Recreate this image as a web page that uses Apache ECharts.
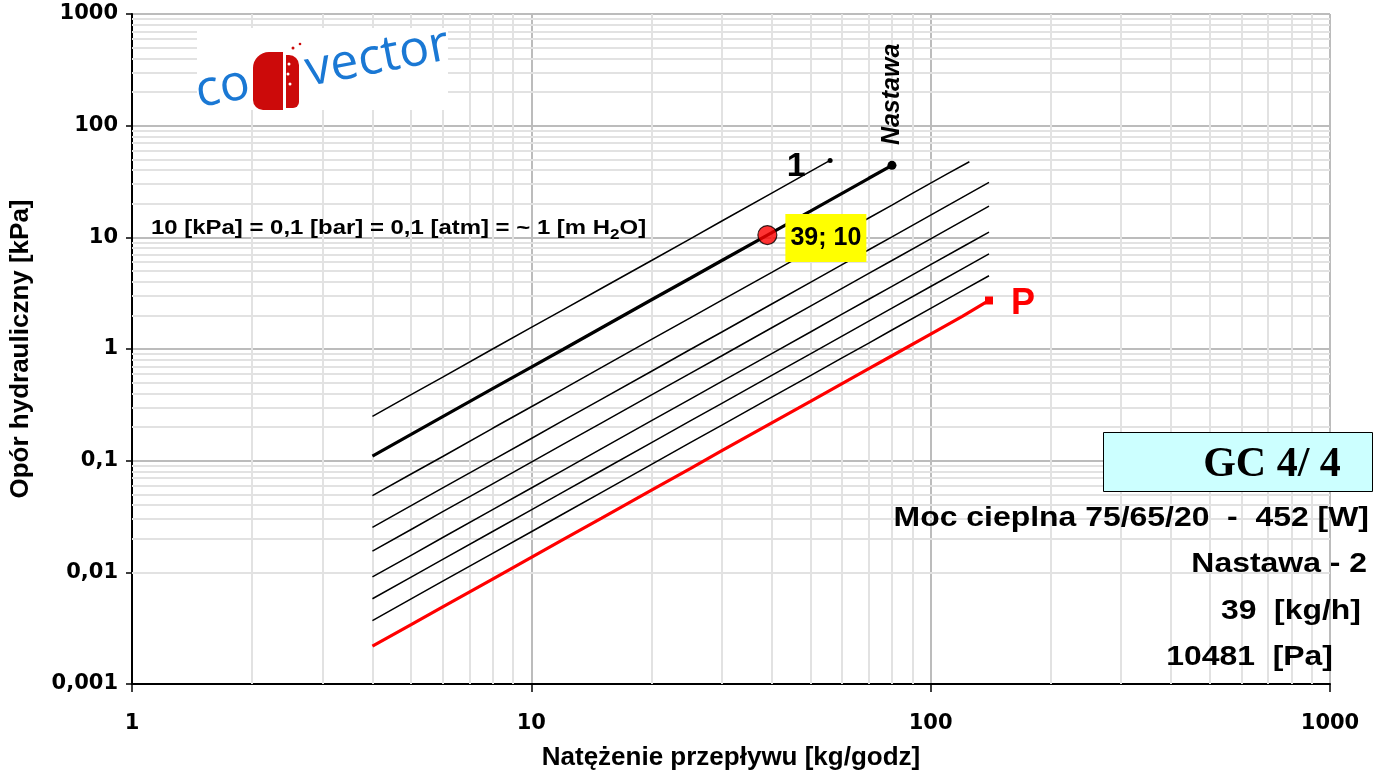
<!DOCTYPE html>
<html><head><meta charset="utf-8">
<script src="https://cdn.jsdelivr.net/npm/echarts@6/dist/echarts.min.js"></script>
<style>html,body{margin:0;padding:0;background:#fff}#c{width:1375px;height:776px}</style>
</head><body><div id="c"></div>
<script>
// ---------- data ----------
const xTickLabels = ['1', '10', '100', '1000'];
const yTickLabels = ['0,001', '0,01', '0,1', '1', '10', '100', '1000'];

const flow  = [4, 5, 6, 8, 10, 12, 15, 20, 25, 30, 40, 50, 60, 70, 80, 100, 120, 140];
const flow1 = [4, 5, 6, 8, 10, 12, 15, 20, 25, 30, 40, 50, 56];
const flow2 = [4, 5, 6, 8, 10, 12, 15, 20, 25, 30, 39, 50, 60, 70, 80];
const flow3 = [4, 5, 6, 8, 10, 12, 15, 20, 25, 30, 40, 50, 60, 70, 80, 90, 100, 110, 125];

const line1 = [0.249, 0.39, 0.56, 1.0, 1.56, 2.24, 3.5, 6.2, 9.7, 14.0, 24.9, 38.9, 48.8];
const line2 = [0.110, 0.172, 0.248, 0.441, 0.689, 0.99, 1.55, 2.76, 4.3, 6.2, 10.48, 17.2, 24.8, 33.8, 44.1];
const line3 = [0.0486, 0.076, 0.109, 0.195, 0.304, 0.438, 0.684, 1.22, 1.9, 2.74, 4.86, 7.6, 10.9, 14.9, 19.4, 24.8, 30.6, 37.0, 47.5];
const line4 = [0.0253, 0.0395, 0.057, 0.101, 0.158, 0.228, 0.356, 0.632, 0.99, 1.42, 2.53, 3.95, 5.69, 7.74, 10.1, 15.8, 22.8, 31.0];
const line5 = [0.0155, 0.0242, 0.0349, 0.062, 0.097, 0.14, 0.218, 0.388, 0.606, 0.87, 1.55, 2.42, 3.49, 4.75, 6.2, 9.7, 13.95, 19.0];
const line6 = [0.0091, 0.0142, 0.0205, 0.0364, 0.0569, 0.082, 0.128, 0.228, 0.356, 0.512, 0.91, 1.42, 2.05, 2.79, 3.64, 5.69, 8.19, 11.15];
const line7 = [0.0058, 0.00906, 0.01305, 0.0232, 0.0363, 0.0522, 0.0816, 0.145, 0.227, 0.326, 0.58, 0.906, 1.305, 1.78, 2.32, 3.63, 5.22, 7.1];
const line8 = [0.0037, 0.00578, 0.00833, 0.0148, 0.0231, 0.0333, 0.052, 0.0925, 0.145, 0.208, 0.37, 0.578, 0.833, 1.13, 1.48, 2.31, 3.33, 4.53];
const lineP = [0.00218, 0.0034, 0.0049, 0.0087, 0.0136, 0.0196, 0.0306, 0.0545, 0.085, 0.123, 0.218, 0.34, 0.49, 0.667, 0.87, 1.36, 1.96, 2.72];

const opPoint = [39, 10.48];
const opLabel = '39; 10';

const xTitle = 'Natężenie przepływu [kg/godz]';
const yTitle = 'Opór hydrauliczny [kPa]';
const infoTitle = 'GC 4/ 4';
const infoRows = ['Moc cieplna 75/65/20  -  452 [W]', 'Nastawa - 2', '39  [kg/h]', '10481  [Pa]'];

// ---------- chart ----------
const SANS = 'Liberation Sans, Arial, sans-serif';
const chart = echarts.init(document.getElementById('c'));

function pairs(xs, ys, endItem) {
  const d = xs.map((x, i) => [x, ys[i]]);
  if (endItem) d[d.length - 1] = Object.assign({ value: d[d.length - 1] }, endItem);
  return d;
}
const minorX = [], minorY = [];
for (let e = 0; e < 3; e++) for (let d = 2; d <= 9; d++) minorX.push(+(d * Math.pow(10, e)).toPrecision(3));
for (let e = -3; e < 3; e++) for (let d = 2; d <= 9; d++) minorY.push(+(d * Math.pow(10, e)).toPrecision(3));

function curve(name, xs, ys, color, width, endItem, label) {
  return {
    name, type: 'line', data: pairs(xs, ys, endItem), symbol: 'none', showSymbol: true,
    lineStyle: { color, width }, itemStyle: { color }, z: 3, silent: true, animation: false,
    label: label || { show: false }
  };
}

const option = {
  animation: false,
  grid: { left: 128, right: 45, top: 14, bottom: 86 },
  xAxis: {
    type: 'log', logBase: 10, min: 1, max: 1000,
    name: xTitle, nameLocation: 'middle', nameGap: 61,
    nameTextStyle: { fontFamily: SANS, fontWeight: 'bold', fontSize: 26, color: '#000' },
    axisLine: { show: true, onZero: false, lineStyle: { color: '#000', width: 2 } },
    axisTick: { show: true, length: 8, lineStyle: { color: '#000', width: 1.5 } },
    axisLabel: { margin: 29, fontFamily: 'DejaVu Sans', fontWeight: 'bold', fontSize: 21, color: '#000',
      formatter: v => xTickLabels[Math.round(Math.log10(v))] },
    splitLine: { show: true, lineStyle: { color: '#bcbcbc', width: 2 } }
  },
  yAxis: {
    type: 'log', logBase: 10, min: 0.001, max: 1000,
    name: yTitle, nameLocation: 'middle', nameGap: 98,
    nameTextStyle: { fontFamily: SANS, fontWeight: 'bold', fontSize: 26, color: '#000' },
    axisLine: { show: true, onZero: false, lineStyle: { color: '#000', width: 2 } },
    axisTick: { show: true, length: 6, lineStyle: { color: '#000', width: 1.5 } },
    axisLabel: { margin: 14, fontFamily: 'DejaVu Sans', fontWeight: 'bold', fontSize: 21, color: '#000',
      formatter: v => yTickLabels[Math.round(Math.log10(v)) + 3] },
    splitLine: { show: true, lineStyle: { color: '#bcbcbc', width: 2 } }
  },
  series: [
    {
      type: 'line', data: [[1, 1]], symbol: 'none', lineStyle: { width: 0 }, silent: true,
      markLine: {
        silent: true, z: 1, symbol: ['none', 'none'], label: { show: false }, animation: false,
        lineStyle: { color: '#e2e2e2', width: 2, type: 'solid' },
        emphasis: { disabled: true },
        data: minorX.map(v => ({ xAxis: v })).concat(minorY.map(v => ({ yAxis: v })))
      }
    },
    curve('1', flow1, line1, '#000', 1.5, { symbol: 'circle', symbolSize: 5 },
      { show: true, position: 'left', distance: 22, offset: [0, 6], fontFamily: SANS, fontWeight: 'bold', fontSize: 34, color: '#000',
        formatter: p => p.dataIndex === flow1.length - 1 ? '1' : '' }),
    curve('Nastawa', flow2, line2, '#000', 3.2, { symbol: 'circle', symbolSize: 9 }),
    curve('3', flow3, line3, '#000', 1.5),
    curve('4', flow, line4, '#000', 1.5),
    curve('5', flow, line5, '#000', 1.5),
    curve('6', flow, line6, '#000', 1.5),
    curve('7', flow, line7, '#000', 1.5),
    curve('8', flow, line8, '#000', 1.5),
    curve('P', flow, lineP, '#ff0000', 3.2, { symbol: 'rect', symbolSize: 8 },
      { show: true, position: 'right', distance: 18, offset: [0, 4], fontFamily: SANS, fontWeight: 'bold', fontSize: 36, color: '#ff0000',
        formatter: p => p.dataIndex === flow.length - 1 ? 'P' : '' }),
    {
      type: 'scatter', data: [opPoint], symbol: 'circle', symbolSize: 19, z: 6, silent: true,
      itemStyle: { color: '#ff0000', borderColor: '#000', borderWidth: 1.2 }
    }
  ]
};
chart.setOption(option);

const nEnd = chart.convertToPixel({ gridIndex: 0 }, [flow2[flow2.length - 1], line2[line2.length - 1]]);
const op = chart.convertToPixel({ gridIndex: 0 }, opPoint);
const rowStyle = { fontFamily: SANS, fontWeight: 'bold', fontSize: 28, fill: '#000', align: 'right', verticalAlign: 'middle' };
const rowPos = [[1369, 518], [1367, 564], [1361, 611], [1333, 657]];

chart.setOption({
  graphic: [
    // logo
    { type: 'rect', z: 10, shape: { x: 197, y: 28, width: 251, height: 82 }, style: { fill: '#fff' } },
    { type: 'group', x: 199, y: 108, rotation: 0.19, z: 11, children: [
      { type: 'text', z: 11, style: { text: 'co', x: 0, y: 10, fontFamily: 'Open Sans', fontSize: 50, fill: '#1a78d4', verticalAlign: 'bottom' } },
      { type: 'text', z: 11, style: { text: 'vector', x: 112, y: 10, fontFamily: 'Open Sans', fontSize: 50, fill: '#1a78d4', verticalAlign: 'bottom' } }
    ] },
    { type: 'rect', z: 12, shape: { x: 253, y: 52, width: 30, height: 58, r: [16, 0, 0, 10] }, style: { fill: '#cc0a0a' } },
    { type: 'rect', z: 12, shape: { x: 286, y: 55, width: 13, height: 53, r: [0, 10, 6, 0] }, style: { fill: '#cc0a0a' } },
    { type: 'circle', z: 13, shape: { cx: 289, cy: 64, r: 1.5 }, style: { fill: '#fff' } },
    { type: 'circle', z: 13, shape: { cx: 288, cy: 74, r: 1.5 }, style: { fill: '#fff' } },
    { type: 'circle', z: 13, shape: { cx: 290, cy: 84, r: 1.5 }, style: { fill: '#fff' } },
    { type: 'circle', z: 12, shape: { cx: 293, cy: 48, r: 1.5 }, style: { fill: '#cc0a0a' } },
    { type: 'circle', z: 12, shape: { cx: 300, cy: 44, r: 1.3 }, style: { fill: '#cc0a0a' } },
    // unit note
    { type: 'text', z: 20, x: 151, y: 228, scaleX: 1.14, style: {
      text: '{a|10 [kPa] = 0,1 [bar] = 0,1 [atm] = ~ 1 [m H}{s|2}{a|O]}', x: 0, y: 0, verticalAlign: 'middle',
      rich: { a: { fontFamily: SANS, fontWeight: 'bold', fontSize: 21, fill: '#000', lineHeight: 26 },
              s: { fontFamily: SANS, fontWeight: 'bold', fontSize: 15, fill: '#000', lineHeight: 26, padding: [14, 0, 0, 0] } } } },
    // operating point label
    { type: 'rect', z: 20, shape: { x: op[0] + 18, y: op[1] - 21, width: 81, height: 48 }, style: { fill: '#ffff00' } },
    { type: 'text', z: 21, x: op[0] + 58.5, y: op[1] + 3, style: { text: opLabel, fontFamily: SANS, fontWeight: 'bold', fontSize: 25,
      fill: '#000', align: 'center', verticalAlign: 'middle' } },
    // Nastawa label
    { type: 'text', z: 20, x: nEnd[0], y: nEnd[1] - 71, rotation: Math.PI / 2, style: {
      text: 'Nastawa', fontFamily: SANS, fontWeight: 'bold', fontStyle: 'italic', fontSize: 25, fill: '#000',
      align: 'center', verticalAlign: 'middle' } },
    // info box
    { type: 'rect', z: 20, shape: { x: 1103.5, y: 432.5, width: 269, height: 59 }, style: { fill: '#ccffff', stroke: '#000', lineWidth: 1 } },
    { type: 'text', z: 21, x: 1272, y: 465, style: { text: infoTitle, fontFamily: 'Liberation Serif', fontWeight: 'bold', fontSize: 42,
      fill: '#000', align: 'center', verticalAlign: 'middle' } }
  ].concat(infoRows.map((t, i) => ({
    type: 'text', z: 21, x: rowPos[i][0], y: rowPos[i][1], scaleX: 1.14, style: Object.assign({ text: t, x: 0, y: 0 }, rowStyle)
  })))
});
</script></body></html>
